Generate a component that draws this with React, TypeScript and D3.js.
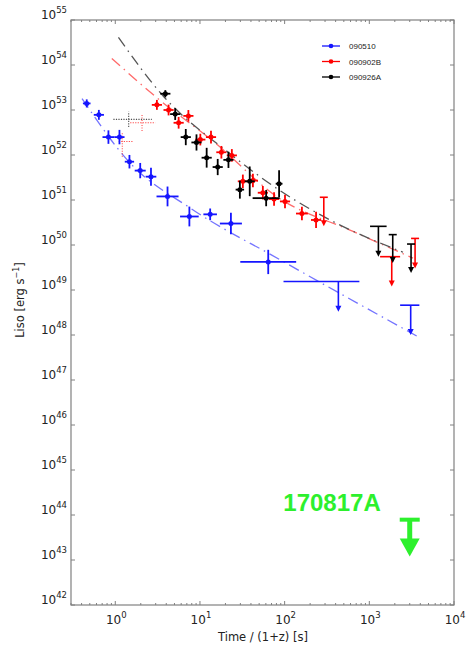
import * as d3 from 'd3';

// [t, L, x half-width (dex), y half-width (dex)]
const grb090510 = [
  [0.46, 1.4e53, 0.045, 0.09], [0.64, 7.8e52, 0.06, 0.11], [0.83, 2.5e52, 0.07, 0.15],
  [1.12, 2.5e52, 0.06, 0.16], [1.47, 7.1e51, 0.055, 0.15], [1.97, 4.5e51, 0.065, 0.17],
  [2.64, 3.3e51, 0.063, 0.2], [4.14, 1.2e51, 0.13, 0.22], [7.5, 4.3e50, 0.11, 0.22],
  [13.2, 4.8e50, 0.08, 0.13], [23.2, 3.0e50, 0.13, 0.24], [64, 4.2e49, 0.33, 0.27],
];
const grb090902B = [
  [3.1, 1.3e53, 0.06, 0.11], [4.26, 1.0e53, 0.06, 0.12], [5.6, 5.2e52, 0.06, 0.13],
  [7.3, 7.4e52, 0.06, 0.13], [10.1, 2.2e52, 0.06, 0.13], [13.5, 2.5e52, 0.06, 0.14],
  [17.9, 1.15e52, 0.06, 0.14], [23.8, 9.8e51, 0.06, 0.14], [32.1, 2.6e51, 0.06, 0.15],
  [42.2, 2.7e51, 0.06, 0.15], [55.3, 1.45e51, 0.06, 0.15], [75, 1.05e51, 0.06, 0.15],
  [101, 9.3e50, 0.06, 0.15], [160, 5.0e50, 0.07, 0.15], [235, 3.6e50, 0.06, 0.18],
];
const grb090926A = [
  [3.9, 2.3e53, 0.06, 0.08], [5.1, 8.1e52, 0.06, 0.13], [6.8, 2.5e52, 0.06, 0.18],
  [9.1, 1.9e52, 0.06, 0.18], [12.0, 8.7e51, 0.06, 0.22], [16.2, 5.4e51, 0.06, 0.18],
  [21.7, 7.8e51, 0.06, 0.18], [29.6, 1.7e51, 0.05, 0.2], [38.7, 2.6e51, 0.06, 0.33],
  [60.5, 1.1e51, 0.16, 0.18], [86, 2.3e51, 0.04, 0.3],
];

// upper limits: [t, L top, L arrow tip, t low, t high] (t low/high = 0 -> small cap)
const lim090510 = [[431, 1.55e49, 3.3e48, 97, 763], [3080, 4.6e48, 1.0e48, 2310, 3900]];
const lim090902B = [[290, 1.15e51, 2.6e50, 0, 0], [1840, 5.5e49, 1.2e49, 1340, 2310], [3470, 1.4e50, 3.0e49, 0, 0]];
const lim090926A = [[1280, 2.6e50, 5.5e49, 1020, 1600], [1890, 1.7e50, 4.0e49, 0, 0], [3110, 1.05e50, 2.4e49, 0, 0]];

// early dotted points: [t, L, t low, t high, L low, L high]
const dottedBlack = [[1.44, 6.2e52, 0.95, 2.7, 4.2e52, 9.2e52]];
const dottedRed = [[2.07, 5.2e52, 1.5, 2.97, 3.4e52, 7.9e52], [1.21, 2.0e52, 1.1, 1.6, 9.1e51, 3.2e52]];

// fitted light curves [t, L]
const fit090510 = [[0.405, 1.8e53], [1.5, 6.6e51], [7.7, 6.6e50], [88.5, 4.7e49], [3630, 9.5e47]];
const fit090902B = [[0.91, 1.4e54], [2.97, 2.0e53], [15.1, 1.86e52], [81.7, 1.17e51], [643, 2.0e50], [3280, 5.1e49]];
const fit090926A = [[1.09, 4.1e54], [3.72, 2.0e53], [19.9, 1.29e52], [106, 1.29e51], [344, 3.6e50], [2500, 6.9e49]];

// GW170817 upper limit [t, L top, L tip]
const lim170817A = [[3000, 8.5e43, 1.2e43]];

const legendNames = ['090510', '090902B', '090926A'];
const yPowers = d3.range(42, 56);
const xPowers = [0, 1, 2, 3, 4];

const W = 474, H = 650;
const x = d3.scaleLog().domain([0.3, 1e4]).range([71, 454]);
const y = d3.scaleLog().domain([1e42, 1e55]).range([605, 20]);

function Points({ data, color }: { data: number[][]; color: string }) {
  return <g stroke={color} strokeWidth={1.8}>
    {data.map(([t, L, xe, ye], i) => <g key={i}>
      <line x1={x(t / 10 ** xe)} x2={x(t * 10 ** xe)} y1={y(L)} y2={y(L)} />
      <line x1={x(t)} x2={x(t)} y1={y(L / 10 ** ye)} y2={y(L * 10 ** ye)} />
      <circle cx={x(t)} cy={y(L)} r={2.5} fill={color} stroke="none" />
    </g>)}
  </g>;
}

function Limits({ data, color }: { data: number[][]; color: string }) {
  return <g stroke={color} strokeWidth={1.6} fill={color}>
    {data.map(([t, top, tip, lo, hi], i) => {
      const cx = x(t), y0 = y(top), y1 = y(tip);
      return <g key={i}>
        <line x1={lo ? x(lo) : cx - 4} x2={hi ? x(hi) : cx + 4} y1={y0} y2={y0} />
        <line x1={cx} x2={cx} y1={y0} y2={y1 - 5} />
        <path d={`M${cx - 3},${y1 - 6}L${cx + 3},${y1 - 6}L${cx},${y1}Z`} stroke="none" />
      </g>;
    })}
  </g>;
}

function Dotted({ data, color }: { data: number[][]; color: string }) {
  return <g stroke={color} strokeWidth={1.1} strokeDasharray="1.2,1.3" opacity={0.85}>
    {data.map(([t, L, tl, th, ll, lh], i) => <g key={i}>
      <line x1={x(tl)} x2={x(th)} y1={y(L)} y2={y(L)} />
      <line x1={x(t)} x2={x(t)} y1={y(ll)} y2={y(lh)} />
    </g>)}
  </g>;
}

const fitLine = d3.line<number[]>().x(d => x(d[0])).y(d => y(d[1])).curve(d3.curveMonotoneX);

function Pow({ p }: { p: number }) {
  return <>10<tspan dy={-6} fontSize={8.5}>{p}</tspan></>;
}

export default function App() {
  const minor: number[] = [];
  for (let p = -1; p < 4; p++) for (let k = 2; k < 10; k++) {
    const v = k * 10 ** p;
    if (v >= 0.3 && v <= 1e4) minor.push(v);
  }
  const [l, r] = x.range();
  const [b, t] = y.range();
  const font = 'DejaVu Sans, sans-serif';
  return <svg width={W} height={H} style={{ position: 'absolute', left: 0, top: 0, background: '#fff' }} fontFamily={font}>
    {/* fit lines */}
    <path d={fitLine(fit090510) || ''} fill="none" stroke="#7474ff" strokeWidth={1.3} strokeDasharray="11,5,1.5,5" />
    <path d={fitLine(fit090902B) || ''} fill="none" stroke="#ff6a6a" strokeWidth={1.3} strokeDasharray="11,5,1.5,5" />
    <path d={fitLine(fit090926A) || ''} fill="none" stroke="#555" strokeWidth={1.3} strokeDasharray="11,5,1.5,5" />

    <Dotted data={dottedBlack} color="#333" />
    <Dotted data={dottedRed} color="#ff3030" />

    <Points data={grb090510} color="#1515ff" />
    <Points data={grb090902B} color="#ff0000" />
    <Points data={grb090926A} color="#000" />
    <Limits data={lim090510} color="#1515ff" />
    <Limits data={lim090902B} color="#ff0000" />
    <Limits data={lim090926A} color="#000" />

    {/* 170817A */}
    {lim170817A.map(([tt, top, tip], i) => {
      const cx = x(tt), y0 = y(top), y1 = y(tip);
      return <g key={i} stroke="#2df02d" fill="#2df02d">
        <line x1={cx - 10} x2={cx + 10} y1={y0 + 1.5} y2={y0 + 1.5} strokeWidth={4} />
        <line x1={cx} x2={cx} y1={y0} y2={y1 - 16} strokeWidth={5} />
        <path d={`M${cx - 10},${y1 - 18}L${cx + 10},${y1 - 18}L${cx},${y1}Z`} stroke="none" />
        <text x={cx - 29} y={y0 - 7} textAnchor="end" fontFamily="Liberation Sans, Arial, sans-serif"
          fontWeight="bold" fontSize={24} stroke="none">170817A</text>
      </g>;
    })}

    {/* frame and ticks */}
    <rect x={l} y={t} width={r - l} height={b - t} fill="none" stroke="#808080" strokeWidth={1.2} />
    <g stroke="#808080" strokeWidth={1}>
      {xPowers.map(p => <g key={p}>
        <line x1={x(10 ** p)} x2={x(10 ** p)} y1={b} y2={b - 4} />
        <line x1={x(10 ** p)} x2={x(10 ** p)} y1={t} y2={t + 4} />
      </g>)}
      {minor.map(v => <g key={v}>
        <line x1={x(v)} x2={x(v)} y1={b} y2={b - 2} />
        <line x1={x(v)} x2={x(v)} y1={t} y2={t + 2} />
      </g>)}
      {yPowers.map(p => <g key={p}>
        <line x1={l} x2={l + 4} y1={y(10 ** p)} y2={y(10 ** p)} />
        <line x1={r} x2={r - 4} y1={y(10 ** p)} y2={y(10 ** p)} />
      </g>)}
    </g>

    {/* tick labels */}
    <g fill="#222" fontSize={12}>
      {yPowers.map(p => <text key={p} x={67} y={y(10 ** p) - 1} textAnchor="end"><Pow p={p} /></text>)}
      {xPowers.map(p => <text key={p} x={x(10 ** p) + 1} y={624} textAnchor="middle"><Pow p={p} /></text>)}
    </g>
    <text x={263} y={641} textAnchor="middle" fontSize={11.5} fill="#222">Time / (1+z) [s]</text>
    <text transform="translate(24,300) rotate(-90)" textAnchor="middle" fontSize={11.5} fill="#222">
      Liso [erg s<tspan dy={-5} fontSize={8}>−1</tspan><tspan dy={5}>]</tspan>
    </text>

    {/* legend */}
    {legendNames.map((name, i) => {
      const color = ['#1515ff', '#ff0000', '#000'][i];
      const ly = 46 + i * 15.5;
      return <g key={name}>
        <line x1={322} x2={340} y1={ly} y2={ly} stroke={color} strokeWidth={1.3} />
        <circle cx={331} cy={ly} r={2.3} fill={color} />
        <text x={349} y={ly + 3} fontSize={8} fontFamily="Liberation Sans, Arial, sans-serif" fill="#222">{name}</text>
      </g>;
    })}
  </svg>;
}
